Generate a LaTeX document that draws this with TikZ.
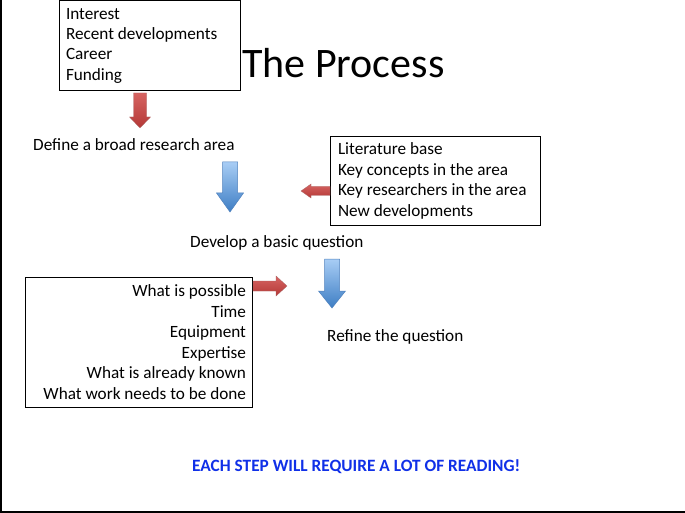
\documentclass[tikz,border=0pt]{standalone}
\usepackage{fontspec}
\setmainfont{Carlito}
\begin{document}
\begin{tikzpicture}[x=1pt,y=-1pt,
  infobox/.style={draw=black,line width=1pt,inner ysep=0pt,
    font=\fontsize{17.2}{20.6}\selectfont},
  steptext/.style={anchor=west,inner sep=0pt,font=\fontsize{17.2}{20}\selectfont},
  redarrow/.style={draw=red!45!black!60,line width=0.3pt,
    top color=arrowredtop,bottom color=arrowredbot},
  bluearrow/.style={draw=arrowblueline,line width=0.5pt,
    top color=arrowbluetop,bottom color=arrowbluebot}]
\definecolor{arrowredtop}{RGB}{214,100,98}
\definecolor{arrowredbot}{RGB}{180,56,54}
\definecolor{arrowbluetop}{RGB}{168,205,245}
\definecolor{arrowbluebot}{RGB}{62,126,196}
\definecolor{arrowblueline}{RGB}{80,130,190}
\definecolor{notecolor}{RGB}{16,48,232}
\useasboundingbox (0,0) rectangle (685,513);
\fill[white] (0,0) rectangle (685,513);

% page frame: left and bottom edge
\draw[line width=2.4pt] (1.2,0) -- (1.2,513);
\draw[line width=1.5pt] (0,512.2) -- (685,512.2);

% title
\node[anchor=west,inner sep=0pt,font=\fontsize{42}{46}\selectfont] (title) at (242,63.5) {The Process};

% input boxes
\node[infobox,minimum width=181pt,minimum height=90pt,text width=167pt,inner xsep=7pt,align=flush left]
  (motives) at (149.5,46) {\raisebox{-1pt}{Interest}\\Recent developments\\Career\\Funding};
\node[infobox,minimum width=210pt,minimum height=88pt,text width=194pt,inner xsep=8pt,align=flush left]
  (literature) at (435,181) {Literature base\\Key concepts in the area\\Key researchers in the area\\New developments};
\node[infobox,minimum width=227pt,minimum height=130pt,text width=215pt,inner xsep=6pt,align=flush right]
  (limits) at (138.5,342) {What is possible\\Time\\Equipment\\Expertise\\What is already known\\What work needs to be done};

% steps
\node[steptext] (area) at (33,145) {Define a broad research area};
\node[steptext] (basic) at (190,243) {Develop a basic question};
\node[steptext] (refine) at (327,337) {Refine the question};
\node[steptext,font=\fontsize{17.3}{20}\selectfont\bfseries,text=notecolor] (note) at (192,467)
  {EACH STEP WILL REQUIRE A LOT OF READING!};

% red block arrows from the input boxes
\path[redarrow] (133.5,93) -- (146.5,93) -- (146.5,117) -- (150.5,117) -- (140,128)
  -- (129.5,117) -- (133.5,117) -- cycle;
\path[redarrow] (330,186.5) -- (311,186.5) -- (311,184) -- (301,191) -- (311,198)
  -- (311,195.5) -- (330,195.5) -- cycle;
\path[redarrow] (253,281) -- (276,281) -- (276,276) -- (287,286) -- (276,296)
  -- (276,291) -- (253,291) -- cycle;

% blue block arrows between the steps
\path[bluearrow] (222.5,162) -- (237.5,162) -- (237.5,193) -- (243.5,193) -- (230,212)
  -- (216.5,193) -- (222.5,193) -- cycle;
\path[bluearrow] (324.5,259) -- (339.5,259) -- (339.5,291) -- (345.5,291) -- (332,308)
  -- (318.5,291) -- (324.5,291) -- cycle;
\end{tikzpicture}
\end{document}
